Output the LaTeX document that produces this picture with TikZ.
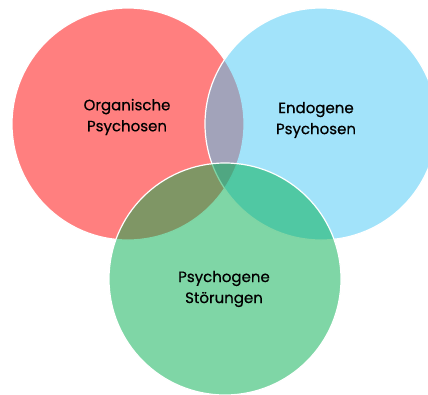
\documentclass[tikz,border=0pt]{standalone}
\usepackage{fontspec}
\setmainfont{Poppins}[BoldFont=Poppins,BoldFeatures={FakeBold=0.6}]
\definecolor{organred}{RGB}{255,0,0}
\definecolor{endoblue}{RGB}{70,200,245}
\definecolor{psygreen}{RGB}{0,173,77}
\begin{document}
\begin{tikzpicture}[x=1pt,y=-1pt,
  venn/.style={circle,draw=white,line width=1.2pt,fill opacity=0.5,draw opacity=1,minimum size=232pt,inner sep=0pt},
  lbl/.style={align=center,text=black,font=\fontsize{15}{21}\selectfont\bfseries}]
\useasboundingbox (0,0) rectangle (428,394);
\clip (0,0) rectangle (428,394);
% the three sets
\node[venn,fill=organred] (org) at (128,124) {};
\node[venn,fill=endoblue] (endo) at (321,124) {};
\node[venn,fill=psygreen] (psy) at (225,279) {};
% labels
\node[lbl] (orglbl) at (127,117) {Organische\\Psychosen};
\node[lbl] (endolbl) at (316,120) {Endogene\\Psychosen};
\node[lbl] (psylbl) at (224,289) {Psychogene\\Störungen};
\end{tikzpicture}
\end{document}
